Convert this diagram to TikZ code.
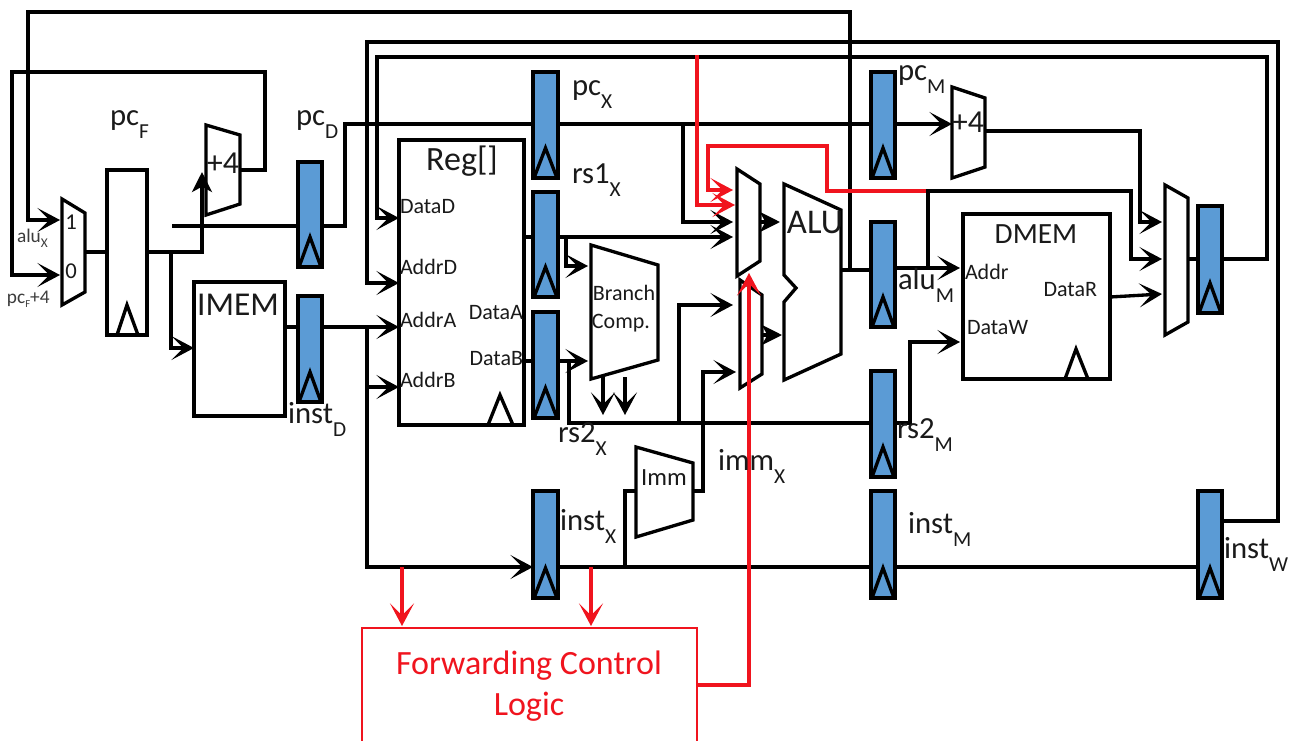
\documentclass[tikz,border=0pt]{standalone}
\usepackage{fontspec}
\setmainfont{Carlito}
\usetikzlibrary{arrows.meta,calc}
\definecolor{ink}{HTML}{1A1A1A}
\definecolor{pipeblue}{HTML}{5B9BD5}
\definecolor{fwdred}{HTML}{F0141E}
\tikzset{
  wire/.style={line width=2.5pt,draw=black,line join=miter},
  barb/.style={-{Stealth[length=17pt,width=18pt,inset=9pt]}},
  solidtip/.style={-{Stealth[length=15pt,width=15pt,inset=4pt]}},
  fwd/.style={line width=2.6pt,draw=fwdred},
  pipereg/.style={draw=black,fill=pipeblue,line width=2.8pt,inner sep=0pt,outer sep=0pt},
  block/.style={draw=black,fill=white,line width=2.5pt,inner sep=0pt,outer sep=0pt},
  clk/.style={draw=black,line width=2.5pt,line join=miter},
  lbl/.style={text=ink,font=\fontsize{23}{25}\selectfont,inner sep=0pt,outer sep=0pt},
  port/.style={text=ink,font=\fontsize{16.5}{18}\selectfont,inner sep=0pt,outer sep=0pt},
  tiny/.style={text=ink!85,font=\fontsize{14.5}{16}\selectfont,inner sep=0pt,outer sep=0pt},
}
\newcommand\rectblock[6]{%
  \pgfmathsetmacro\wdt{(#4-#2)*0.75}\pgfmathsetmacro\hgt{(#5-#3)*0.75}%
  \node[#6,anchor=north west,minimum width=\wdt pt,minimum height=\hgt pt] (#1) at (#2,#3) {};}
\newcommand\pipe[5]{\rectblock{#1}{#2}{#3}{#4}{#5}{pipereg}%
  \draw[clk] (#2+1,#5) -- ({(#2+#4)/2},#5-30) -- (#4-1,#5);}
\newcommand\trap[7]{% name xl xr ya yb yc yd
  \draw[block] (#2,#4) -- (#3,#5) -- (#3,#6) -- (#2,#7) -- cycle;
  \pgfmathsetmacro\wdt{(#3-#2)*0.75}\pgfmathsetmacro\hgt{(#7-#4)*0.75}%
  \node[inner sep=0pt,outer sep=0pt,anchor=north west,minimum width=\wdt pt,minimum height=\hgt pt] (#1) at (#2,#4) {};}
\newcommand\lab[5]{\node[lbl,anchor=base west] (#1) at (#2,#3) {#4\raisebox{-10pt}{\fontsize{16}{16}\selectfont #5}};}
\begin{document}
\begin{tikzpicture}[x=0.75pt,y=-0.75pt]
\useasboundingbox (0,0) rectangle (1300,740);
\clip (0,0) rectangle (1300,740);
\fill[white] (0,0) rectangle (1300,740);

% --- blocks
\trap{muxF}{62}{85}{199}{213}{292}{305}
\trap{addF}{206}{240}{125}{135}{204}{215}
\trap{branch}{591}{658}{245}{265}{360}{379}
\trap{imm}{636}{693}{447}{463}{520}{537}
\trap{muxA}{737}{760}{169}{184}{261}{276}
\trap{muxB}{740}{762}{280}{295}{374}{388}
\draw[block] (784,184) -- (841,210) -- (841,354) -- (784,380) -- (784,302) -- (796,288) -- (784,275) -- cycle;
\node[inner sep=0pt] (alu) at (815,270) {};
\trap{addM}{952}{985}{87}{98}{167}{178}
\trap{muxW}{1165}{1188}{185}{198}{322}{335}

\rectblock{pcreg}{107}{170}{147}{335}{block}
\draw[clk] (117,335) -- (127,305) -- (138,335);
\rectblock{imem}{194}{282}{285}{416}{block}
\rectblock{regfile}{399}{140}{524}{425}{block}
\draw[clk] (488,425) -- (500,395) -- (513,425);
\rectblock{dmem}{963}{214}{1110}{379}{block}
\draw[clk] (1065,379) -- (1076,349) -- (1088,379);

\pipe{rD}{298}{162}{322}{267}
\pipe{iD}{298}{296}{322}{402}
\pipe{pX}{533}{72}{558}{178}
\pipe{aX}{533}{192}{558}{297}
\pipe{bX}{533}{312}{558}{418}
\pipe{iX}{533}{491}{558}{598}
\pipe{pM}{871}{72}{895}{178}
\pipe{aM}{871}{222}{895}{327}
\pipe{bM}{871}{371}{895}{477}
\pipe{iM}{871}{491}{895}{598}
\pipe{iW}{1198}{491}{1222}{598}
\pipe{wW}{1198}{206}{1222}{313}

\node[draw=fwdred,line width=1pt,fill=white,anchor=north west,minimum width=251.25pt,minimum height=120pt,inner sep=0pt,outer sep=0pt] (fwdbox) at (362,628) {};

% --- named free ends and junctions
\coordinate (wAluOut) at (850,270);
\coordinate (wPcF) at (172,226);
\coordinate (jF) at (171,252);
\coordinate (jInst) at (367,327);
\coordinate (jImm) at (625,567);
\coordinate (jRs1) at (566,237);
\coordinate (jRs2) at (569,362);
\coordinate (jOpB) at (679,423);
\coordinate (jPcX) at (683,124);
\coordinate (jAlu) at (928,269);
\coordinate (jRedA) at (402,567);
\coordinate (jRedB) at (591,567);
\coordinate (redStart) at (697,55);
\coordinate (redEnd) at (926,191);

% --- black wires
\draw[wire,barb] (wAluOut) -- (850,12) -- (28,12) -- (28,220) -- (60,220);
\draw[wire,barb] (addF.east |- 0,170) -- (265,170) -- (265,72) -- (12,72) -- (12,275) -- (60,275);
\draw[wire] (muxF.east |- 0,252) -- (pcreg.west |- 0,252);
\draw[wire] (pcreg.east |- 0,252) -- (202,252) -- (202,215);
\draw[wire,solidtip] (202,215) -- (202,172);
\draw[wire,barb] (jF) -- (171,348) -- (imem.west |- 0,348);
\draw[wire] (wPcF) -- (rD.west |- wPcF);
\draw[wire] (rD.east |- wPcF) -- (345,226) -- (345,124) -- (pX.west |- 0,124);
\draw[wire] (pX.east |- 0,124) -- (pM.west |- 0,124);
\draw[wire,barb] (pM.east |- 0,124) -- (addM.west |- 0,124);
\draw[wire] (imem.east |- 0,327) -- (iD.west |- 0,327);
\draw[wire,barb] (iD.east |- 0,327) -- (regfile.west |- 0,327);
\draw[wire,barb] (367,387) -- (regfile.west |- 0,387);
\draw[wire,barb] (jInst) -- (367,567) -- (iX.west |- 0,567);
\draw[wire,barb] (iW.east |- 0,521) -- (1278,521) -- (1278,42) -- (367,42) -- (367,283) -- (regfile.west |- 0,283);
\draw[wire,barb] (wW.east |- 0,259) -- (1267,259) -- (1267,57) -- (377,57) -- (377,218) -- (regfile.west |- 0,218);
\draw[wire] (regfile.east |- 0,237) -- (aX.west |- 0,237);
\draw[wire,barb] (aX.east |- 0,237) -- (733,237);
\draw[wire,barb] (jRs1) -- (566,266) -- (588,266);
\draw[wire] (regfile.east |- 0,361) -- (bX.west |- 0,361);
\draw[wire,barb] (bX.east |- 0,361) -- (588,361);
\draw[wire] (jRs2) -- (569,423) -- (bM.west |- 0,423);
\draw[wire,barb] (jOpB) -- (679,305) -- (733,305);
\draw[wire,barb] (603,377) -- (603,415);
\draw[wire,barb] (625,377) -- (625,415);
\draw[wire,barb] (jPcX) -- (683,222) -- (733,222);
\draw[wire] (iX.east |- 0,567) -- (iM.west |- 0,567);
\draw[wire] (iM.east |- 0,567) -- (iW.west |- 0,567);
\draw[wire] (jImm) -- (625,491) -- (imm.west |- 0,491);
\draw[wire,barb] (imm.east |- 0,491) -- (703,491) -- (703,372) -- (736,372);
\draw[wire,solidtip] (muxA.east |- 0,222) -- (780,222);
\draw[wire,solidtip] (muxB.east |- 0,335) -- (782,335);
\draw[wire] (841,270) -- (aM.west |- 0,270);
\draw[wire,barb] (aM.east |- 0,268) -- (960,268);
\draw[wire,barb] (jAlu) -- (928,191) -- (1131,191) -- (1131,259) -- (1162,259);
\draw[wire,barb] (addM.east |- 0,131) -- (1140,131) -- (1140,222) -- (1162,222);
\draw[wire,barb] (dmem.east |- 0,297) -- (1162,294);
\draw[wire,barb] (bM.east |- 0,423) -- (910,423) -- (910,342) -- (960,342);
\draw[wire] (muxW.east |- 0,259) -- (wW.west |- 0,259);

% --- forwarding wires
\draw[fwd,barb] (redStart) -- (697,205) -- (735,205);
\draw[fwd,barb] (redEnd) -- (827,191) -- (827,146) -- (708,146) -- (708,190) -- (733,190);
\draw[fwd,barb] (fwdbox.east |- 0,685) -- (749,685) -- (749,273);
\draw[fwd,barb] (jRedA) -- (402,626);
\draw[fwd,barb] (jRedB) -- (591,626);

% --- texts
\node[port,anchor=center] (t1) at (71,222) {\fontsize{17}{18}\selectfont 1};
\node[port,anchor=center] (t0) at (71,271) {\fontsize{17}{18}\selectfont 0};
\node[tiny,anchor=base west] (tAlux) at (17,242) {alu\raisebox{-4pt}{\fontsize{10}{10}\selectfont X}};
\node[tiny,anchor=base west] (tPc4) at (7,303) {pc\raisebox{-3pt}{\fontsize{8}{8}\selectfont F}+4};
\node[lbl,anchor=center] (tadd1) at (223,163) {\fontsize{24}{26}\selectfont +4};
\node[lbl,anchor=center] (tadd2) at (968,122) {\fontsize{24}{26}\selectfont +4};
\node[lbl,anchor=center] (timem) at (238,305) {\fontsize{25}{27}\selectfont IMEM};
\node[lbl,anchor=center] (treg) at (462,161) {\fontsize{25.5}{27}\selectfont Reg[]};
\node[lbl,anchor=center] (tdmem) at (1036,234) {\fontsize{22}{24}\selectfont DMEM};
\node[lbl,anchor=center] (talu) at (815,222) {\fontsize{26}{28}\selectfont ALU};
\node[port,anchor=base] (tb1) at (624,300) {Branch};
\node[port,anchor=base] (tb2) at (621,328) {Comp.};
\node[port,anchor=center] (timm) at (664,478) {\fontsize{18.5}{20}\selectfont Imm};
\node[port,anchor=base west] (pDD) at (400,213) {DataD};
\node[port,anchor=base west] (pAD) at (400,274) {AddrD};
\node[port,anchor=base west] (pAA) at (400,327) {AddrA};
\node[port,anchor=base west] (pAB) at (400,387) {AddrB};
\node[port,anchor=base east] (pDA) at (523,319) {DataA};
\node[port,anchor=base east] (pDB) at (523,365) {DataB};
\node[port,anchor=base west] (pAd) at (965,279) {Addr};
\node[port,anchor=base west] (pDW) at (967,334) {DataW};
\node[port,anchor=base east] (pDR) at (1097,296) {DataR};
\lab{lPcF}{110}{125}{pc}{F}
\lab{lPcD}{296}{125}{pc}{D}
\lab{lInD}{288}{423}{inst}{D}
\lab{lPcX}{572}{95}{pc}{X}
\lab{lRs1}{572}{183}{rs1}{X}
\lab{lRs2}{558}{442}{rs2}{X}
\lab{lImm}{718}{470}{imm}{X}
\lab{lInX}{560}{530}{inst}{X}
\lab{lPcM}{898}{80}{pc}{M}
\lab{lAlM}{898}{289}{alu}{M}
\lab{lRsM}{897}{438}{rs2}{M}
\lab{lInM}{908}{533}{inst}{M}
\lab{lInW}{1224}{558}{inst}{W}
\node[text=fwdred,font=\fontsize{25.5}{28}\selectfont,inner sep=0pt] (tf1) at (529,666) {Forwarding Control};
\node[text=fwdred,font=\fontsize{25.5}{28}\selectfont,inner sep=0pt] (tf2) at (529,707) {Logic};
\end{tikzpicture}
\end{document}
